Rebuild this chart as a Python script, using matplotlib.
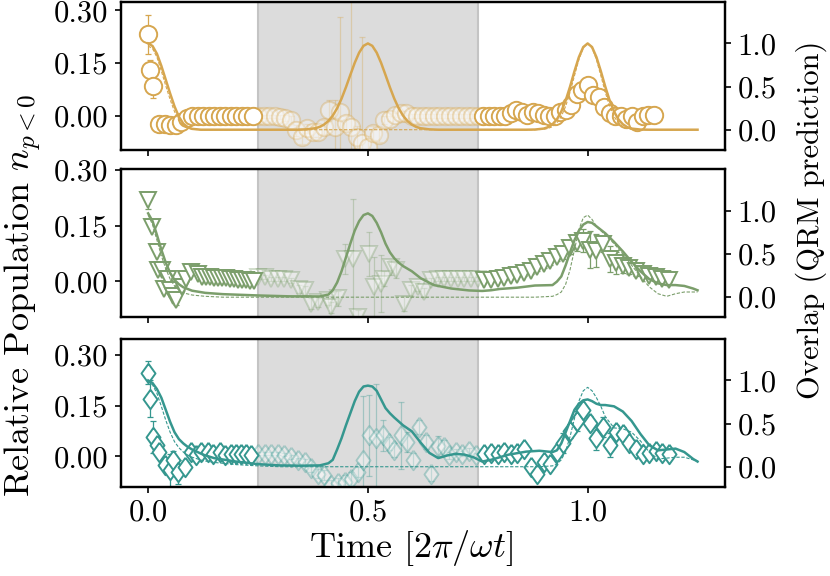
import numpy as np
import matplotlib
matplotlib.use('Agg')
import matplotlib.pyplot as plt
from matplotlib.ticker import FormatStrFormatter

plt.rcParams['font.family'] = 'cmr10'
plt.rcParams['mathtext.fontset'] = 'cm'
plt.rcParams['axes.formatter.use_mathtext'] = True
plt.rcParams['font.size'] = 22

# ---- measured populations (left axis) ----
# panel 1 (circles)
t_p1 = [0.0, 0.005, 0.011,
        0.025, 0.0375, 0.05, 0.0625, 0.075, 0.0875, 0.1, 0.1125, 0.125, 0.1375, 0.15, 0.1625,
        0.175, 0.1875, 0.2, 0.2125, 0.225, 0.2375,
        0.25, 0.2625, 0.275, 0.2875, 0.3, 0.3125, 0.325, 0.3375, 0.35, 0.3625, 0.375, 0.3875,
        0.4, 0.4125, 0.425, 0.4375, 0.45, 0.4625, 0.475, 0.4875, 0.5, 0.5125, 0.525, 0.5375,
        0.55, 0.5625, 0.575, 0.5875, 0.6, 0.6125, 0.625, 0.6375, 0.65, 0.6625, 0.675, 0.6875,
        0.7, 0.7125, 0.725, 0.7375, 0.75,
        0.7625, 0.775, 0.7875, 0.8, 0.8125, 0.825, 0.8375, 0.85, 0.8625, 0.875, 0.8875, 0.9,
        0.9125, 0.925, 0.9375, 0.95, 0.9625, 0.975, 0.9875, 1.0, 1.0125, 1.025, 1.0375, 1.05,
        1.0625, 1.075, 1.0875, 1.1, 1.1125, 1.125, 1.1375, 1.15]
n_p1 = [0.232, 0.13, 0.085,
        -0.021, -0.021, -0.025, -0.025, -0.016, -0.004, 0.0, 0.0, 0.0, 0.0, 0.0, 0.0,
        0.0, 0.0, 0.0, 0.0, 0.0, 0.0,
        0.0, 0.0, 0.0, 0.0, -0.002, -0.006, -0.011, -0.04, -0.059, -0.035, -0.044, -0.044,
        -0.03, 0.017, -0.03, 0.012, -0.02, -0.03, -0.059, -0.077, -0.087, -0.049, -0.054, -0.011,
        -0.007, 0.003, 0.008, 0.008, 0.0, 0.0, 0.0, 0.0, 0.0, 0.0, 0.0, 0.0,
        0.0, 0.0, 0.0, 0.0, 0.0,
        0.0, 0.0, 0.0, 0.0, 0.0, 0.008, 0.017, 0.012, 0.003, 0.012, 0.008, 0.003,
        0.0, 0.0, 0.012, 0.017, 0.031, 0.064, 0.075, 0.088, 0.059, 0.055, 0.026, 0.008,
        0.0, 0.0, -0.007, 0.0, -0.016, 0.0, 0.003, 0.003]
e_p1 = [0.055, 0.03, 0.035,
        0.018, 0.02, 0.012, 0.01, 0.008, 0.006, 0.004, 0.004, 0.004, 0.004, 0.004, 0.004,
        0.004, 0.004, 0.004, 0.004, 0.004, 0.004,
        0.004, 0.004, 0.004, 0.004, 0.006, 0.008, 0.01, 0.015, 0.02, 0.012, 0.015, 0.015,
        0.02, 0.03, 0.075, 0.27, 0.02, 0.45, 0.03, 0.30, 0.03, 0.02, 0.02, 0.01,
        0.008, 0.006, 0.006, 0.006, 0.005, 0.005, 0.005, 0.005, 0.005, 0.005, 0.005, 0.005,
        0.005, 0.005, 0.005, 0.005, 0.005,
        0.005, 0.005, 0.005, 0.005, 0.005, 0.006, 0.006, 0.006, 0.006, 0.006, 0.006, 0.006,
        0.006, 0.006, 0.006, 0.006, 0.008, 0.01, 0.01, 0.01, 0.01, 0.01, 0.008, 0.006,
        0.006, 0.006, 0.006, 0.006, 0.006, 0.006, 0.006, 0.006]

# panel 2 (triangles)
t_p2 = [0.0, 0.008, 0.019, 0.023, 0.031, 0.037, 0.045, 0.049, 0.057, 0.064, 0.076, 0.087, 0.098, 0.114,
        0.123, 0.132, 0.141, 0.150, 0.159, 0.168, 0.177, 0.186, 0.195, 0.204, 0.213, 0.222, 0.231, 0.240,
        0.25, 0.265, 0.28, 0.295, 0.31, 0.326, 0.344, 0.356, 0.371, 0.386, 0.409, 0.416, 0.432, 0.447,
        0.466, 0.477, 0.503, 0.515, 0.53, 0.537, 0.553, 0.564, 0.583, 0.598, 0.613, 0.628, 0.643, 0.659,
        0.674, 0.689, 0.704, 0.719, 0.734, 0.75,
        0.765, 0.78, 0.795, 0.81, 0.825, 0.84, 0.855, 0.87, 0.885, 0.9, 0.915, 0.93, 0.945, 0.96,
        0.975, 0.99, 1.005, 1.02, 1.035, 1.05, 1.065, 1.08, 1.095, 1.11, 1.125, 1.14, 1.155, 1.17, 1.185]
n_p2 = [0.218, 0.146, 0.079, 0.030, 0.030, -0.020, 0.007, -0.024, -0.038, -0.051, -0.015, 0.007, 0.025, 0.020,
        0.013, 0.012, 0.011, 0.010, 0.010, 0.009, 0.008, 0.007, 0.006, 0.005, 0.004, 0.003, 0.002, 0.001,
        0.012, 0.012, 0.007, 0.007, 0.007, 0.003, -0.02, -0.024, -0.06, -0.056, -0.051, -0.069, -0.045, 0.061,
        0.061, -0.096, 0.074, -0.015, -0.006, 0.007, 0.038, 0.03, -0.06, -0.024, -0.015, -0.029, 0.003, 0.007,
        0.007, 0.007, 0.007, 0.007, 0.007, 0.007,
        0.003, 0.003, 0.006, 0.010, 0.014, 0.018, 0.024, 0.029, 0.038, 0.046, 0.055, 0.067, 0.075, 0.090,
        0.103, 0.110, 0.085, 0.083, 0.100, 0.060, 0.050, 0.042, 0.036, 0.028, 0.020, 0.015, 0.011, 0.007, 0.004]
e_p2 = [0.022, 0.008, 0.008, 0.01, 0.012, 0.01, 0.01, 0.01, 0.01, 0.012, 0.008, 0.006, 0.006, 0.005,
        0.004, 0.004, 0.004, 0.004, 0.004, 0.004, 0.004, 0.004, 0.004, 0.004, 0.004, 0.004, 0.004, 0.004,
        0.005, 0.005, 0.005, 0.005, 0.005, 0.006, 0.01, 0.012, 0.015, 0.012, 0.012, 0.015, 0.02, 0.04,
        0.16, 0.02, 0.06, 0.08, 0.076, 0.02, 0.02, 0.02, 0.02, 0.015, 0.012, 0.012, 0.006, 0.005,
        0.005, 0.005, 0.005, 0.005, 0.005, 0.005,
        0.005, 0.005, 0.005, 0.006, 0.006, 0.006, 0.008, 0.008, 0.01, 0.01, 0.012, 0.012, 0.015, 0.015,
        0.02, 0.03, 0.05, 0.045, 0.02, 0.035, 0.03, 0.02, 0.015, 0.012, 0.01, 0.008, 0.006, 0.006, 0.005]

# panel 3 (diamonds)
t_p3 = [0.0, 0.005, 0.011, 0.019, 0.025, 0.038, 0.049, 0.057, 0.068, 0.083, 0.098, 0.11, 0.121, 0.136,
        0.148, 0.163, 0.174, 0.189, 0.2, 0.212, 0.223, 0.235,
        0.25, 0.265, 0.28, 0.295, 0.31, 0.326, 0.341, 0.356, 0.371, 0.386, 0.401, 0.416, 0.432, 0.447,
        0.462, 0.477, 0.488, 0.503, 0.518, 0.534, 0.549, 0.56, 0.575, 0.59, 0.602, 0.617, 0.632, 0.643,
        0.659, 0.674, 0.685, 0.70, 0.715, 0.73, 0.745,
        0.765, 0.78, 0.795, 0.81, 0.825, 0.84, 0.855, 0.87, 0.885, 0.9, 0.915, 0.93, 0.945, 0.96,
        0.975, 0.99, 1.005, 1.02, 1.035, 1.05, 1.065, 1.08, 1.095, 1.11, 1.125, 1.14, 1.155, 1.17, 1.185]
n_p3 = [0.248, 0.171, 0.057, 0.033, 0.013, -0.027, -0.042, -0.012, -0.047, -0.032, 0.013, 0.003, 0.013, 0.013,
        0.008, 0.013, 0.003, 0.008, 0.008, 0.008, 0.008, 0.003,
        0.008, 0.008, 0.008, 0.008, 0.005, -0.002, -0.012, -0.017, -0.036, -0.051, -0.056, -0.086, -0.08, -0.076,
        -0.066, -0.047, -0.012, 0.062, 0.053, 0.062, 0.038, 0.018, 0.062, 0.042, -0.01, 0.087, 0.042, -0.052,
        0.03, 0.028, 0.003, 0.013, 0.008, 0.016, 0.005,
        0.008, 0.010, 0.008, 0.012, 0.008, 0.010, 0.023, -0.032, -0.051, -0.017, -0.022, 0.013, 0.040, 0.075,
        0.105, 0.136, 0.100, 0.053, 0.087, 0.033, 0.072, 0.067, 0.040, 0.023, 0.008, 0.010, 0.015, 0.010, 0.008]
e_p3 = [0.034, 0.054, 0.047, 0.01, 0.01, 0.015, 0.05, 0.028, 0.035, 0.015, 0.008, 0.006, 0.005, 0.005,
        0.005, 0.005, 0.005, 0.005, 0.005, 0.005, 0.005, 0.005,
        0.005, 0.005, 0.005, 0.005, 0.005, 0.006, 0.008, 0.01, 0.012, 0.012, 0.015, 0.015, 0.015, 0.02,
        0.02, 0.015, 0.19, 0.12, 0.16, 0.045, 0.02, 0.02, 0.1, 0.03, 0.02, 0.02, 0.02, 0.02,
        0.03, 0.02, 0.01, 0.01, 0.008, 0.008, 0.006,
        0.005, 0.005, 0.005, 0.005, 0.006, 0.008, 0.015, 0.012, 0.015, 0.01, 0.01, 0.01, 0.03, 0.02,
        0.03, 0.02, 0.02, 0.035, 0.03, 0.035, 0.02, 0.02, 0.015, 0.01, 0.008, 0.006, 0.006, 0.006, 0.005]

# ---- QRM prediction overlaps (right axis) ----
t_q1 = [0, .01, .02, .03, .04, .05, .06, .07, .08, .09, .10, .12, .14,
        .34, .36, .38, .39, .40, .41, .42, .43, .44, .45, .46, .47, .48, .49, .50, .51, .52,
        .53, .54, .55, .56, .57, .58, .59, .60, .61, .62, .64, .66,
        .86, .88, .90, .91, .92, .93, .94, .95, .96, .97, .98, .99, 1.0, 1.01, 1.02, 1.03,
        1.04, 1.05, 1.06, 1.07, 1.08, 1.09, 1.10, 1.12, 1.14, 1.25]
q1_full = [1.0, .97, .88, .74, .58, .42, .27, .15, .07, .03, .01, 0, 0,
           0, .004, .017, .032, .059, .101, .163, .249, .36, .492, .635, .775, .893, .972, 1.0, .972, .893,
           .775, .635, .492, .36, .249, .163, .101, .059, .032, .017, .004, 0,
           0, .002, .013, .030, .063, .120, .211, .339, .50, .678, .841, .958, 1.0, .958, .841, .678,
           .50, .339, .211, .120, .063, .030, .013, .002, 0, 0]
q1_dash = [.97, .94, .84, .68, .51, .35, .21, .11, .05, .02, .005, 0, 0,
           0, 0, 0, 0, 0, 0, 0, 0, 0, 0, 0, 0, 0, 0, 0, 0, 0,
           0, 0, 0, 0, 0, 0, 0, 0, 0, 0, 0, 0,
           0, 0, .005, .015, .036, .078, .154, .272, .435, .626, .812, .949, 1.0, .949, .812, .626,
           .435, .272, .154, .078, .036, .015, .005, 0, 0, 0]

t_q2 = [0, .01, .02, .03, .04, .05, .06, .07, .08, .10, .13, .17, .25, .32, .39,
        .41, .42, .43, .44, .45, .46, .47, .48, .49, .50, .51, .52, .53, .54, .55, .56, .57, .58,
        .60, .62, .65, .69, .73, .76, .78, .80, .84, .88, .92,
        .93, .94, .95, .96, .97, .98, .99, 1.0, 1.01, 1.02,
        1.04, 1.06, 1.08, 1.10, 1.12, 1.14, 1.16, 1.18, 1.20, 1.22, 1.24, 1.25]
q2_full = [.97, .88, .72, .55, .40, .28, .20, .15, .115, .075, .05, .035, .02, .01, .008,
           .03, .08, .17, .30, .46, .62, .77, .88, .95, .97, .94, .86, .75, .62, .52, .45, .40, .36,
           .30, .22, .14, .10, .078, .072, .08, .095, .11, .135, .14,
           .18, .24, .37, .52, .66, .77, .84, .87, .86, .82,
           .74, .64, .53, .41, .30, .21, .16, .14, .14, .13, .10, .08]
q2_dash = [.95, .84, .66, .48, .33, .21, .13, .08, .05, .025, .01, 0, 0, 0, 0,
           0, 0, 0, 0, 0, 0, 0, 0, 0, 0, 0, 0, 0, 0, 0, 0, 0, 0,
           0, 0, 0, 0, 0, 0, 0, 0, 0, 0, .01,
           .03, .06, .15, .32, .55, .78, .92, .95, .90, .82,
           .72, .62, .50, .37, .24, .12, .04, .01, .04, .06, .06, .06]

t_q3 = [0, .01, .02, .03, .04, .05, .06, .07, .08, .09, .10,
        .125, .15, .20, .25, .30, .35, .39,
        .41, .42, .43, .44, .45, .46, .47, .48, .49, .50, .51, .52, .53, .54, .55, .56,
        .58, .60, .62, .64, .66, .68, .70, .72, .74, .76, .78,
        .82, .86, .89, .92,
        .93, .94, .95, .96, .97, .98, .99, 1.0, 1.01, 1.02, 1.03, 1.04,
        1.06, 1.08, 1.10, 1.12, 1.14, 1.16, 1.18, 1.20, 1.22, 1.24, 1.25]
q3_full = [1.0, .97, .90, .80, .66, .52, .40, .32, .27, .23, .20,
           .14, .10, .06, .03, .015, .012, .015,
           .04, .08, .20, .33, .48, .62, .76, .87, .93, .94, .93, .88, .78, .68, .62, .57,
           .48, .41, .28, .16, .10, .13, .15, .14, .11, .06, .08,
           .14, .175, .185, .17,
           .19, .27, .40, .53, .66, .73, .77, .78, .76, .73, .715, .715,
           .70, .64, .53, .38, .25, .19, .20, .21, .17, .09, .06]
q3_dash = [1.0, .95, .85, .70, .54, .40, .29, .22, .17, .135, .11,
           .07, .05, .025, .01, 0, 0, 0,
           0, 0, 0, 0, 0, 0, 0, 0, 0, 0, 0, 0, 0, 0, 0, 0,
           0, 0, 0, 0, 0, 0, 0, 0, 0, 0, 0,
           0, 0, 0, .01,
           .03, .08, .18, .35, .56, .76, .88, .92, .88, .80, .70, .58,
           .45, .44, .40, .30, .17, .09, .10, .11, .11, .08, .07]

colors = ['#d6a64f', '#7b9e6b', '#35978f']
diamond = [(0, 1), (0.72, 0), (0, -1), (-0.72, 0), (0, 1)]
markers = ['o', 'v', diamond]
msizes = [12.5, 12, 14]
left_lims = [(-0.096, 0.3235), (-0.097, 0.302), (-0.091, 0.3475)]
positions = [[0.1454, 0.7396, 0.7281, 0.2569],
             [0.1454, 0.4488, 0.7281, 0.2573],
             [0.1454, 0.1545, 0.7281, 0.2569]]

data = [(t_p1, n_p1, e_p1, t_q1, q1_full, q1_dash),
        (t_p2, n_p2, e_p2, t_q2, q2_full, q2_dash),
        (t_p3, n_p3, e_p3, t_q3, q3_full, q3_dash)]

fig = plt.figure(figsize=(8.3, 5.76), dpi=100)

for i, (t, n, e, tq, qf, qd) in enumerate(data):
    c = colors[i]
    ax = fig.add_axes(positions[i])
    ax.axvspan(0.25, 0.75, facecolor='#dcdcdc', edgecolor='#c4c4c4', lw=1.5, zorder=0)
    t = np.array(t)
    n = np.array(n)
    e = np.array(e)
    inside = (t >= 0.245) & (t <= 0.755)
    for mask, a in [(inside, 0.35), (~inside, 1.0)]:
        ax.errorbar(t[mask], n[mask], yerr=e[mask], fmt='none', ecolor=c,
                    elinewidth=0.9, capsize=2.5, capthick=0.9, alpha=a, zorder=2)
        ax.plot(t[mask], n[mask], ls='none', marker=markers[i], ms=msizes[i],
                mfc='white', mec=c, mew=1.4, alpha=a, zorder=3)
    ax.set_xlim(-0.0625, 1.3125)
    ax.set_ylim(*left_lims[i])
    ax.set_xticks([0, 0.5, 1.0])
    ax.set_yticks([0, 0.15, 0.30])
    ax.xaxis.set_major_formatter(FormatStrFormatter('%.1f'))
    ax.yaxis.set_major_formatter(FormatStrFormatter('%.2f'))
    ax.tick_params(direction='out', length=4, width=1.2, pad=5, labelsize=22)
    if i < 2:
        ax.tick_params(labelbottom=False)

    ax2 = ax.twinx()
    ax2.plot(tq, qf, color=c, lw=1.8, zorder=4)
    ax2.plot(tq, qd, color=c, lw=0.8, ls=(0, (3, 1.5)), zorder=4)
    ax2.set_ylim(-0.235, 1.48)
    ax2.set_yticks([0, 0.5, 1.0])
    ax2.yaxis.set_major_formatter(FormatStrFormatter('%.1f'))
    ax2.tick_params(direction='out', length=4, width=1.2, pad=5, labelsize=22)
    for a_ in (ax, ax2):
        for s in a_.spines.values():
            s.set_linewidth(1.6)

fig.text(0.028, 0.488, r'Relative Population $n_{p<0}$', rotation=90,
         ha='center', va='center', fontsize=26)
fig.text(0.978, 0.618, 'Overlap (QRM prediction)', rotation=90,
         ha='center', va='center', fontsize=22)
fig.text(0.495, 0.049, r'Time [$2\pi/\omega t$]', ha='center', va='center', fontsize=26)

fig.savefig('out.png', dpi=100)
